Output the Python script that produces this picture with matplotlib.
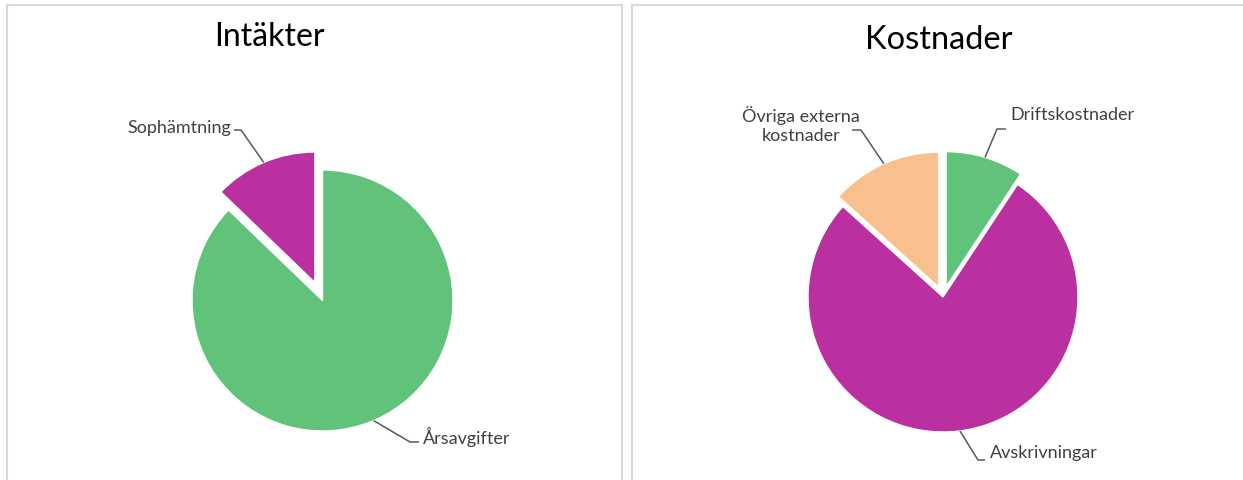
import numpy as np
import matplotlib
matplotlib.use("Agg")
import matplotlib.pyplot as plt
from matplotlib.patches import Rectangle

# data (shares, percent)
income_labels = ["Årsavgifter", "Sophämtning"]
income_values = [87.2, 12.8]
cost_labels = ["Driftskostnader", "Avskrivningar", "Övriga externa\nkostnader"]
cost_values = [9.3, 77.4, 13.3]

GREEN = "#61C27A"
MAGENTA = "#BB30A0"
ORANGE = "#F9C08F"
TEXT = "#404040"
LINE = "#595959"

W, H = 1243, 480
plt.rcParams["font.family"] = ["Lato", "DejaVu Sans"]

fig = plt.figure(figsize=(W / 100, H / 100), dpi=100)

# panel frames
for x0, x1 in [(7, 622), (632, 1300)]:
    fig.add_artist(Rectangle((x0 / W, -0.1), (x1 - x0) / W, (H - 5) / H + 0.1,
                             transform=fig.transFigure, fill=False,
                             edgecolor="#d9d9d9", lw=1.5))


def pie_axes(cx, cy, r, half=220):
    # square axes centred on (cx, cy) in pixels, pie radius r pixels
    ax = fig.add_axes([(cx - half) / W, (H - cy - half) / H, 2 * half / W, 2 * half / H])
    ax.set_axis_off()
    return ax


def finish(ax, r, half=220):
    ax.set_xlim(-half / r, half / r)
    ax.set_ylim(-half / r, half / r)
    ax.set_aspect("equal", adjustable="box")


def leader(ax, wedge, cx, cy, r, text, tx, ty, ha, lx, ly, ex):
    # text at pixel (tx, ty); line from (lx, ly) horizontally to ex, then to wedge
    to_d = lambda px, py: ((px - cx) / r, (cy - py) / r)
    mid = np.deg2rad((wedge.theta1 + wedge.theta2) / 2)
    wx = wedge.center[0] + wedge.r * np.cos(mid)
    wy = wedge.center[1] + wedge.r * np.sin(mid)
    p0 = to_d(lx, ly)
    p1 = to_d(ex, ly)
    ax.plot([p0[0], p1[0], wx], [p0[1], p1[1], wy], color=LINE, lw=1.1,
            solid_capstyle="butt", clip_on=False)
    t = to_d(tx, ty)
    ax.text(t[0], t[1], text, ha=ha, va="center", fontsize=13, color=TEXT,
            linespacing=1.2, multialignment="center")


# left: Intäkter
cx, cy, r = 322.5, 300.5, 130.5
ax1 = pie_axes(cx, cy, r)
w1, _ = ax1.pie(income_values, colors=[GREEN, MAGENTA], startangle=90,
                counterclock=False, explode=[0, 0.15],
                wedgeprops=dict(edgecolor="white", linewidth=1))
finish(ax1, r)
leader(ax1, w1[1], cx, cy, r, income_labels[1], 231, 128, "right", 234, 130, 241)
leader(ax1, w1[0], cx, cy, r, income_labels[0], 423, 437, "left", 419, 442, 410)
fig.text(269 / W, 1 - 37 / H, "Intäkter", ha="center", va="center",
         fontsize=23, color="black")

# right: Kostnader
cx, cy, r = 943, 297, 135
ax2 = pie_axes(cx, cy, r)
w2, _ = ax2.pie(cost_values, colors=[GREEN, MAGENTA, ORANGE], startangle=90,
                counterclock=False, explode=[0.08, 0, 0.08],
                wedgeprops=dict(edgecolor="white", linewidth=1))
finish(ax2, r)
leader(ax2, w2[0], cx, cy, r, cost_labels[0], 1010, 115, "left", 1006, 129, 997)
leader(ax2, w2[1], cx, cy, r, cost_labels[1], 990, 453, "left", 985, 460, 978)
leader(ax2, w2[2], cx, cy, r, cost_labels[2], 801, 125, "center", 852, 130, 861)
fig.text(939 / W, 1 - 40 / H, "Kostnader", ha="center", va="center",
         fontsize=23.5, color="black")

fig.savefig("out.png", dpi=100)
